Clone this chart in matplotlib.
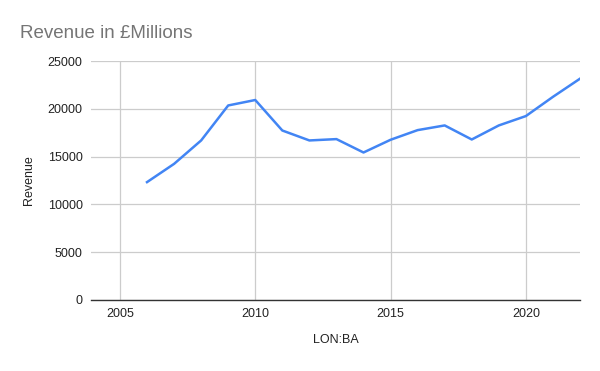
import matplotlib.pyplot as plt

plt.rcParams['font.family'] = ['Liberation Sans', 'DejaVu Sans']

# Revenue data
years = [2006, 2007, 2008, 2009, 2010, 2011, 2012, 2013, 2014,
         2015, 2016, 2017, 2018, 2019, 2020, 2021, 2022]
revenue = [12330, 14240, 16690, 20350, 20920, 17730, 16690, 16830, 15430,
           16760, 17770, 18260, 16790, 18260, 19240, 21250, 23150]

x_ticks = [2005, 2010, 2015, 2020]
y_ticks = [0, 5000, 10000, 15000, 20000, 25000]

fig = plt.figure(figsize=(6, 3.71), dpi=100)
ax = fig.add_axes([91 / 600, 1 - 300 / 371, (580 - 91) / 600, (300 - 61) / 371])

ax.plot(years, revenue, color='#4285f4', linewidth=1.8)

ax.set_xlim(2003.93, 2022)
ax.set_ylim(0, 25000)
ax.set_xticks(x_ticks)
ax.set_yticks(y_ticks)
ax.grid(True, color='#cccccc', linewidth=0.9)
ax.set_axisbelow(True)
for side in ['top', 'right', 'left']:
    ax.spines[side].set_visible(False)
ax.spines['bottom'].set_color('#333333')
ax.spines['bottom'].set_linewidth(1.0)
ax.tick_params(length=0, labelsize=9, colors='#222222', pad=6)

ax.set_xlabel('LON:BA', fontsize=9, color='#222222', labelpad=10)
ax.set_ylabel('Revenue', fontsize=9, color='#222222', labelpad=9)

fig.text(20 / 600, 1 - 33 / 371, 'Revenue in £Millions', fontsize=13.5,
         color='#757575', va='center', ha='left')

fig.savefig('out.png', dpi=100)
